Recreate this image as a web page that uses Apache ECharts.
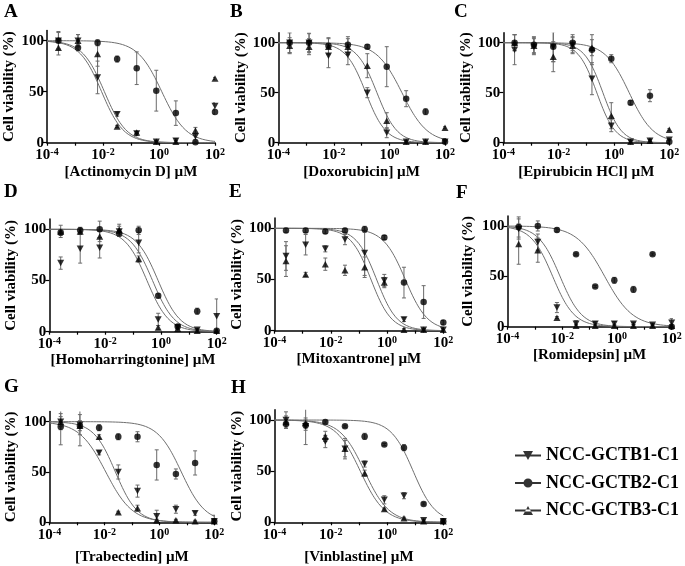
<!DOCTYPE html>
<html><head><meta charset="utf-8">
<script src="https://cdn.jsdelivr.net/npm/echarts@6/dist/echarts.min.js"></script>
<style>html,body{margin:0;padding:0;background:#fff}#c{width:685px;height:566px}</style>
</head><body><div id="c"></div>
<script>
// ---------- DATA ----------
// 5-fold dilution series (µM)
const concentrations = [0.000256, 0.00128, 0.0064, 0.032, 0.16, 0.8, 4, 20, 100];
const drugNames = ['Actinomycin D', 'Doxorubicin', 'Epirubicin HCl', 'Homoharringtonine', 'Mitoxantrone', 'Romidepsin', 'Trabectedin', 'Vinblastine'];
const panelLetters = ['A', 'B', 'C', 'D', 'E', 'F', 'G', 'H'];
const cellLines = ['NCC-GCTB1-C1', 'NCC-GCTB2-C1', 'NCC-GCTB3-C1'];

// mean cell viability (%) per drug (rows) per concentration (cols)
const gctb1Mean = [
  [100, 100, 64, 28, 9, 1, 2, 6, 36],
  [100, 100, 87, 88, 50, 10, 1, 1, 1],
  [93, 96, 96, 98, 64, 17, 1, 2, 3],
  [67, 81, 82, 98, 87, 12, 4, 2, 15],
  [73, 84, 80, 89, 76, 49, 11, 1, 1],
  [97, 84, 19, 3, 3, 3, 3, 2, 4],
  [100, 97, 69, 50, 31, 6, 13, 9, 1],
  [100, 94, 79, 72, 57, 22, 26, 2, 1]
];
const gctb1Sd = [
  [8, 6, 16, 2, 2, 1, 2, 3, 3],
  [10, 10, 12, 10, 5, 5, 1, 1, 3],
  [15, 8, 15, 8, 16, 6, 1, 1, 1],
  [6, 14, 10, 5, 10, 6, 2, 1, 17],
  [14, 10, 3, 5, 22, 6, 2, 1, 1],
  [10, 8, 5, 3, 2, 2, 1, 1, 4],
  [8, 10, 2, 7, 6, 6, 4, 2, 2],
  [8, 18, 6, 10, 3, 4, 3, 1, 1]
];
const gctb2Mean = [
  [100, 93, 98, 82, 73, 51, 29, 0.5, 30],
  [100, 100, 97, 98, 96, 76, 44, 31, 1],
  [100, 98, 96, 100, 93, 84, 40, 47, 1],
  [97, 99, 100, 96, 99, 35, 5, 20, 1],
  [98, 98, 97, 98, 99, 91, 47, 28, 8],
  [99, 100, 96, 72, 40, 46, 37, 72, 0],
  [95, 96, 94, 85, 85, 57, 48, 59, 1],
  [96, 95, 98, 94, 84, 76, 73, 18, 1]
];
const gctb2Sd = [
  [9, 3, 3, 3, 16, 20, 12, 1, 2],
  [10, 9, 8, 8, 2, 20, 8, 3, 3],
  [8, 8, 15, 8, 15, 4, 2, 6, 1],
  [3, 3, 8, 3, 4, 2, 2, 3, 1],
  [2, 2, 2, 2, 3, 2, 15, 16, 2],
  [10, 5, 2, 1, 1, 3, 3, 1, 1],
  [18, 20, 3, 3, 5, 15, 5, 12, 6],
  [4, 5, 1, 1, 3, 1, 3, 1, 1]
];
const gctb3Mean = [
  [93, 100, 87, 16, 10, 1, 1, 12, 63],
  [97, 96, 96, 96, 77, 22, 1, 1, 15],
  [100, 97, 86, 97, 95, 27, 1, 2, 13],
  [98, 98, 93, 99, 71, 4, 3, 1, 1],
  [68, 55, 65, 59, 62, 47, 1, 1, 1],
  [82, 76, 9, 1, 1, 1, 1, 1, 1],
  [100, 96, 85, 10, 14, 2, 2, 1, 1],
  [98, 97, 84, 72, 48, 13, 4, 1, 1]
];
const gctb3Sd = [
  [7, 6, 12, 1, 1, 1, 1, 3, 1],
  [8, 8, 8, 8, 12, 8, 1, 1, 1],
  [8, 8, 15, 8, 8, 13, 1, 1, 1],
  [6, 3, 5, 6, 3, 2, 1, 1, 1],
  [15, 2, 6, 5, 10, 5, 1, 1, 1],
  [20, 12, 1, 1, 1, 1, 1, 1, 1],
  [5, 5, 2, 1, 3, 1, 1, 1, 1],
  [6, 5, 5, 8, 3, 1, 1, 1, 1]
];

// fitted 4-parameter logistic curves (top 100, bottom 0): log10 IC50 (µM) and Hill slope
const gctb1LogIC50 = [-1.95, -0.85, -0.62, -0.3, -0.37, -2.08, -1.95, -0.8];
const gctb1Hill    = [1.1, 1.2, 1.3, 1.1, 1.2, 1.1, 0.9, 1.0];
const gctb2LogIC50 = [0.1, 0.45, 0.55, -0.1, 0.65, -0.45, 0.8, 0.93];
const gctb2Hill    = [1.0, 0.95, 1.0, 1.1, 1.1, 0.85, 1.0, 1.1];
const gctb3LogIC50 = [-2.05, -0.45, -0.4, -0.5, -0.57, -2.35, -1.6, -0.95];
const gctb3Hill    = [1.1, 1.2, 1.3, 1.1, 1.2, 1.1, 1.1, 1.0];

const yTickValues = [0, 50, 100];

// ---------- LAYOUT ----------
const FONT = '"Liberation Serif", "Times New Roman", serif';
const boxes = [
  {left: 47,    top: 30.5,  width: 168,   height: 112.2, xGap: 22, yGap: 30, lx: 4,   ly: 3},
  {left: 278.3, top: 32.7,  width: 166.7, height: 110,   xGap: 22, yGap: 28, lx: 230, ly: 3},
  {left: 503.3, top: 32.7,  width: 166,   height: 110,   xGap: 22, yGap: 28, lx: 454, ly: 3},
  {left: 49.3,  top: 219.1, width: 167.4, height: 112.6, xGap: 18, yGap: 31, lx: 4,   ly: 183},
  {left: 274.5, top: 218.1, width: 168.8, height: 112.6, xGap: 18, yGap: 28, lx: 229, ly: 183},
  {left: 507.5, top: 215.9, width: 164.2, height: 110.8, xGap: 18, yGap: 32, lx: 456, ly: 184},
  {left: 49.5,  top: 411.6, width: 164.8, height: 110.7, xGap: 27, yGap: 31, lx: 4,   ly: 378},
  {left: 274.5, top: 409.8, width: 168.8, height: 112.5, xGap: 27, yGap: 30, lx: 231, ly: 379}
];

const means = [gctb1Mean, gctb2Mean, gctb3Mean];
const sds = [gctb1Sd, gctb2Sd, gctb3Sd];
const ic50s = [gctb1LogIC50, gctb2LogIC50, gctb3LogIC50];
const hills = [gctb1Hill, gctb2Hill, gctb3Hill];
const symbols = ['path://M0,0L10,0L5,9Z', 'circle', 'path://M5,0L10,9L0,9Z'];
const symbolSizes = [[7, 6.5], 6.5, [7, 6.5]];
const legendIcons = [
  'path://M0,4.4L26,4.4L26,6.6L0,6.6Z M8,1L18,1L13,10Z',
  'path://M0,4.4L26,4.4L26,6.6L0,6.6Z M17.5,5.5A4.5,4.5,0,1,1,8.5,5.5A4.5,4.5,0,1,1,17.5,5.5Z',
  'path://M0,4.4L26,4.4L26,6.6L0,6.6Z M8,10L18,10L13,1Z'
];

const grids = [], xAxes = [], yAxes = [], series = [], graphics = [];
const axisLineStyle = {color: '#000', width: 1.5};

boxes.forEach((b, i) => {
  grids.push({left: b.left, top: b.top, width: b.width, height: b.height});
  xAxes.push({
    type: 'log', logBase: 10, gridIndex: i, min: 1e-4, max: 100, interval: 1,
    name: '[' + drugNames[i] + '] µM', nameLocation: 'middle', nameGap: b.xGap,
    nameTextStyle: {fontFamily: FONT, fontWeight: 'bold', fontSize: 15, color: '#000'},
    axisLine: {lineStyle: axisLineStyle, onZero: false},
    axisTick: {length: 3, lineStyle: {color: '#000', width: 1.2}},
    splitLine: {show: false}, minorTick: {show: false},
    axisLabel: {
      margin: 5, color: '#000',
      formatter: v => {
        const e = Math.round(Math.log10(v));
        if (e % 2 !== 0) return '';
        return '{b|10}{s|' + e + '}';
      },
      rich: {
        b: {fontFamily: FONT, fontWeight: 'bold', fontSize: 15, color: '#000', lineHeight: 15, verticalAlign: 'bottom'},
        s: {fontFamily: FONT, fontWeight: 'bold', fontSize: 10, color: '#000', lineHeight: 10, verticalAlign: 'top'}
      }
    }
  });
  yAxes.push({
    type: 'value', gridIndex: i, min: 0, max: 110,
    name: 'Cell viability (%)', nameLocation: 'middle', nameRotate: 90, nameGap: b.yGap,
    nameTextStyle: {fontFamily: FONT, fontWeight: 'bold', fontSize: 15, color: '#000'},
    axisLine: {show: true, lineStyle: axisLineStyle},
    axisTick: {show: true, length: 4, lineStyle: {color: '#000', width: 1.2}, customValues: yTickValues},
    axisLabel: {margin: 3, fontFamily: FONT, fontWeight: 'bold', fontSize: 15, color: '#000', customValues: yTickValues},
    splitLine: {show: false}
  });
  graphics.push({
    type: 'text', left: b.lx, top: b.ly,
    style: {text: panelLetters[i], font: 'bold 19px ' + FONT, fill: '#000'}
  });

  // fitted curves
  for (let c = 0; c < 3; c++) {
    const pts = [];
    for (let k = 0; k <= 120; k++) {
      const lx = -4 + k * 0.05;
      const y = 100 / (1 + Math.pow(10, hills[c][i] * (lx - ic50s[c][i])));
      pts.push([Math.pow(10, lx), y]);
    }
    series.push({
      type: 'line', name: 'fit-' + i + '-' + c, xAxisIndex: i, yAxisIndex: i,
      data: pts, showSymbol: false, symbol: 'none', silent: true, z: 2,
      lineStyle: {color: '#6f6f6f', width: 1}
    });
  }
  // error bars
  for (let c = 0; c < 3; c++) {
    const eb = concentrations.map((x, j) => [x, means[c][i][j] - sds[c][i][j], means[c][i][j] + sds[c][i][j]]);
    series.push({
      type: 'custom', name: 'err-' + i + '-' + c, xAxisIndex: i, yAxisIndex: i, z: 3, clip: true,
      encode: {x: 0, y: [1, 2]}, data: eb, silent: true,
      renderItem: (params, api) => {
        const x = api.value(0);
        const p1 = api.coord([x, api.value(1)]);
        const p2 = api.coord([x, api.value(2)]);
        const w = 2;
        const st = {stroke: '#6a6a6a', lineWidth: 1};
        return {type: 'group', children: [
          {type: 'line', shape: {x1: p1[0], y1: p1[1], x2: p2[0], y2: p2[1]}, style: st},
          {type: 'line', shape: {x1: p1[0] - w, y1: p1[1], x2: p1[0] + w, y2: p1[1]}, style: st},
          {type: 'line', shape: {x1: p2[0] - w, y1: p2[1], x2: p2[0] + w, y2: p2[1]}, style: st}
        ]};
      }
    });
  }
  // points
  for (let c = 0; c < 3; c++) {
    series.push({
      type: 'scatter', name: cellLines[c], xAxisIndex: i, yAxisIndex: i, z: 4,
      symbol: symbols[c], symbolSize: symbolSizes[c],
      itemStyle: {color: '#000'},
      data: concentrations.map((x, j) => [x, means[c][i][j]])
    });
  }
});

const chart = echarts.init(document.getElementById('c'), null, {renderer: 'canvas'});
chart.setOption({
  animation: false,
  backgroundColor: '#fff',
  grid: grids, xAxis: xAxes, yAxis: yAxes, series: series,
  graphic: graphics,
  legend: {
    orient: 'vertical', left: 510, top: 441, itemWidth: 26, itemHeight: 11, itemGap: 8.5,
    selectedMode: false, symbolRotate: 0,
    textStyle: {fontFamily: FONT, fontWeight: 'bold', fontSize: 18, color: '#000', lineHeight: 19},
    data: cellLines.map((n, c) => ({name: n, icon: legendIcons[c]}))
  }
});
</script>
</body></html>
